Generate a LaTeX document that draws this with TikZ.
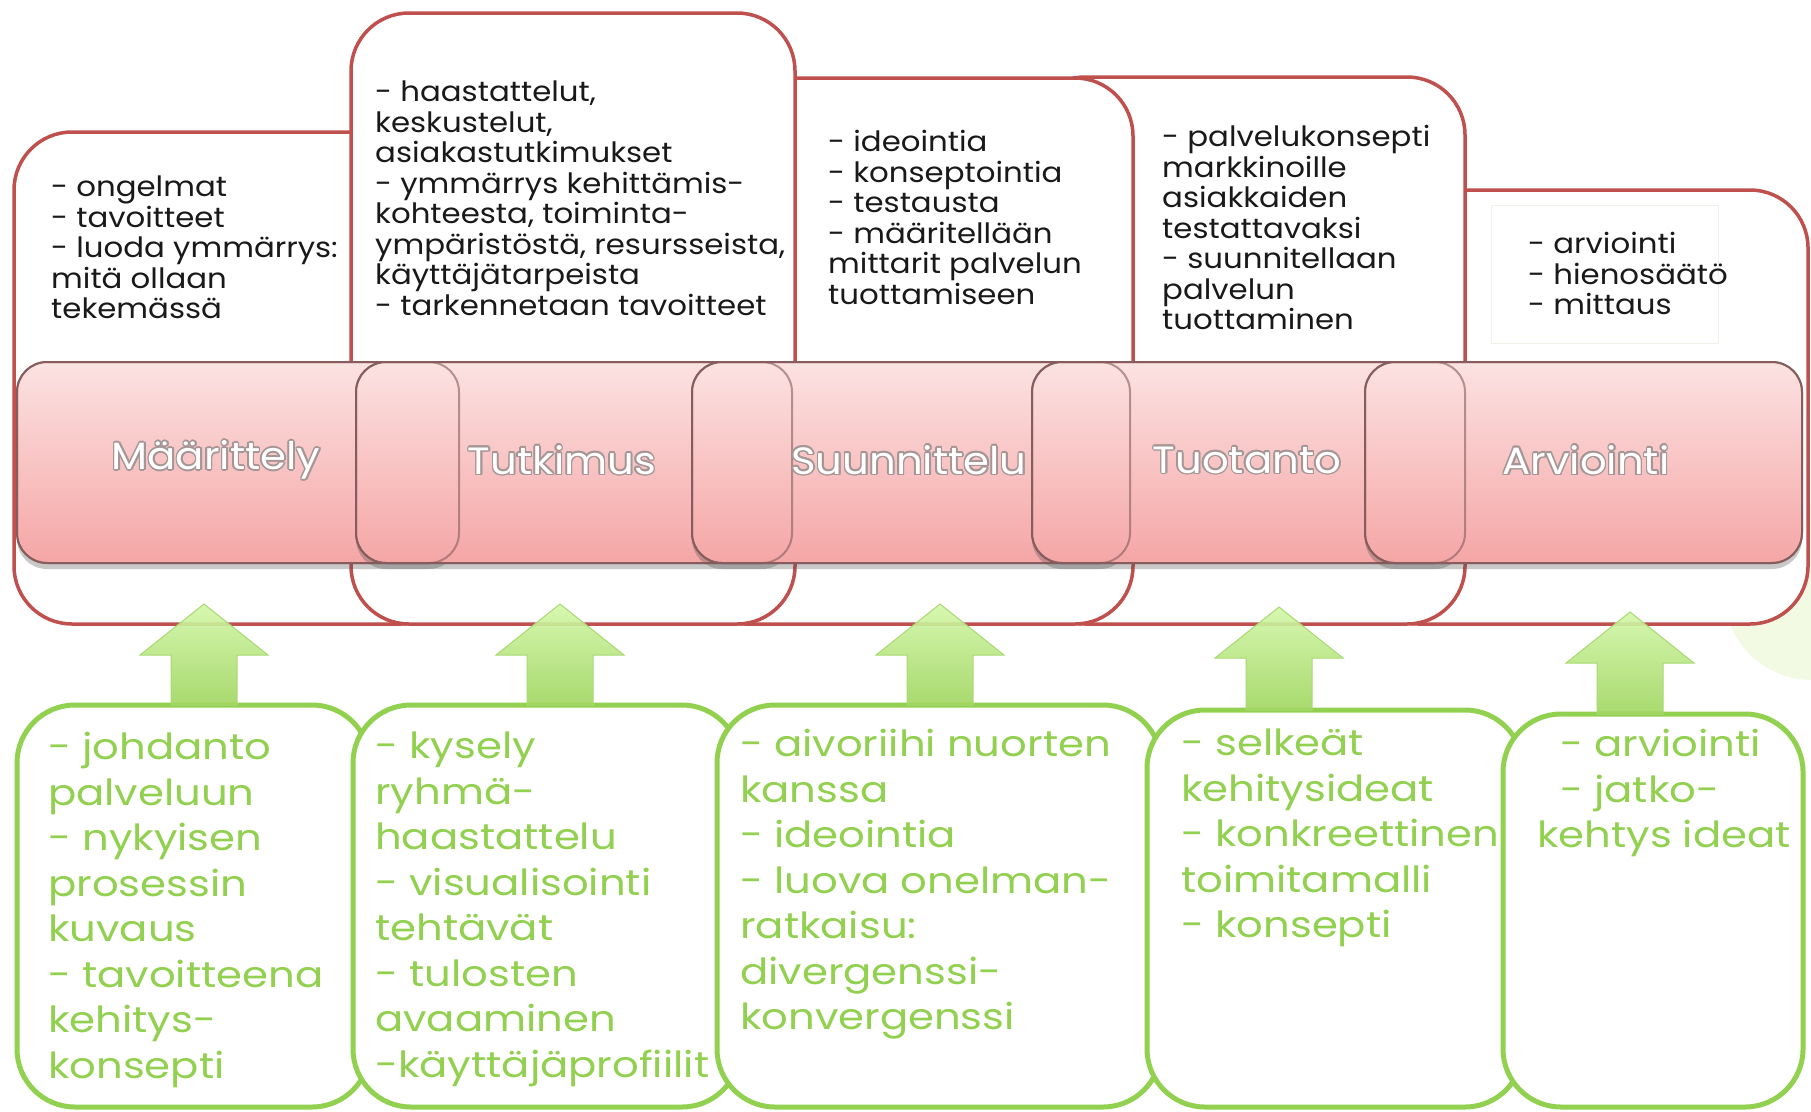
\documentclass[tikz,border=0pt]{standalone}
\usepackage{fontspec}
\setmainfont{Poppins}
\newfontfamily\boxfont[FakeStretch=1.1]{Poppins}
\newfontfamily\greenfont[FakeStretch=1.16]{Poppins}
\newfontfamily\stagefont[FakeStretch=1.1]{Poppins}
\usetikzlibrary{calc,shadows}
\definecolor{myred}{RGB}{192,80,77}
\definecolor{mygreen}{RGB}{146,208,80}
\definecolor{mypinktop}{RGB}{252,226,226}
\definecolor{mypinkbot}{RGB}{245,166,166}
\definecolor{mypinkrim}{RGB}{135,92,92}
\definecolor{myarrowtop}{RGB}{210,247,168}
\definecolor{myarrowbot}{RGB}{160,214,95}
\definecolor{mylabelrim}{RGB}{165,150,150}
\definecolor{myblob}{RGB}{242,250,228}
\definecolor{mypale}{RGB}{236,242,232}

\tikzset{
  phasebox/.style={draw=myred, line width=3.5pt, fill=white, rounded corners=58pt,
    anchor=north west, inner sep=0pt, outer sep=0pt},
  stagebar/.style={draw=mypinkrim, line width=2pt, top color=mypinktop, bottom color=mypinkbot,
    rounded corners=30pt, anchor=north west, inner sep=0pt, outer sep=0pt, minimum height=201pt,
    drop shadow={shadow xshift=0pt, shadow yshift=-6pt, opacity=0.3, fill=black!70}},
  pinkrim/.style={draw=mypinkrim, line width=2pt, draw opacity=0.6, rounded corners=30pt},
  inputbox/.style={draw=mygreen, line width=5pt, fill=white, rounded corners=58pt,
    anchor=north west, inner sep=0pt, outer sep=0pt},
  toptext/.style={anchor=north west, align=left, inner sep=0pt, text=black!90,
    font=\boxfont\fontsize{28pt}{30.5pt}\selectfont},
  greentext/.style={anchor=north west, align=left, inner sep=0pt, text=mygreen,
    font=\greenfont\fontsize{36pt}{45.5pt}\selectfont},
  stagetext/.style={inner sep=0pt, font=\stagefont\fontsize{38pt}{44pt}\selectfont},
  uparrow/.style={draw=mygreen!80, line width=1pt, top color=myarrowtop, bottom color=myarrowbot,
    fill opacity=0.9}
}

\begin{document}
\begin{tikzpicture}[x=1pt, y=1pt]
    \useasboundingbox (0,0) rectangle (1811,-1111);
    % Background
    \fill[white] (0,0) rectangle (1811,-1111);
    \fill[myblob] (1812,-592) circle (88);

    \begin{scope}
        % Phase boxes (back to front)
        \node[phasebox, minimum width=448pt, minimum height=434pt] (r5) at (1360,-190) {};
        \node[phasebox, minimum width=438pt, minimum height=547pt] (r4) at (1027,-77) {};
        \node[phasebox, minimum width=446pt, minimum height=546pt] (r3) at (687,-78) {};
        \node[phasebox, minimum width=445pt, minimum height=492pt] (r1) at (14,-132) {};
        \node[phasebox, minimum width=444pt, minimum height=611pt] (r2) at (351,-13) {};
        \draw[mypale, line width=1pt] (1491,-205) rectangle (1718,-343);

        % Phase box texts
        \node[toptext] (t1) at (51,-176) {- ongelmat\\- tavoitteet\\- luoda ymmärrys:\\mitä ollaan\\tekemässä};
        \node[toptext] (t2) at (375,-81) {- haastattelut,\\keskustelut,\\asiakastutkimukset\\- ymmärrys kehittämis-\\kohteesta, toiminta-\\ympäristöstä, resursseista,\\käyttäjätarpeista\\- tarkennetaan tavoitteet};
        \node[toptext] (t3) at (828,-130) {- ideointia\\- konseptointia\\- testausta\\- määritellään\\mittarit palvelun\\tuottamiseen};
        \node[toptext] (t4) at (1162,-125) {- palvelukonsepti\\markkinoille\\asiakkaiden\\testattavaksi\\- suunnitellaan\\palvelun\\tuottaminen};
        \node[toptext] (t5) at (1528,-232) {- arviointi\\- hienosäätö\\- mittaus};
    \end{scope}

    \begin{scope}
        % Stage bars
        \node[stagebar, minimum width=442pt] (p1) at (17,-362) {};
        \node[stagebar, minimum width=436pt] (p2) at (356,-362) {};
        \node[stagebar, minimum width=438pt] (p3) at (692,-362) {};
        \node[stagebar, minimum width=433pt] (p4) at (1032,-362) {};
        \node[stagebar, minimum width=437pt] (p5) at (1365,-362) {};
        \foreach \p in {p1,p2,p3,p4,p5}
            \draw[pinkrim] (\p.south west) rectangle (\p.north east);
        % Stage names
        \foreach \n/\x/\s in {l1/216/Määrittely, l2/562/Tutkimus, l3/909/Suunnittelu, l4/1247/Tuotanto, l5/1586/Arviointi}{
            \foreach \ang in {0,30,...,330}
                \node[stagetext, text=mylabelrim] at ($(\x,-460)+(\ang:1.6)$) {\s};
            \node[stagetext, text=white] (\n) at (\x,-460) {\s};
        }
    \end{scope}

    \begin{scope}
        % Input boxes
        \node[inputbox, minimum width=353pt, minimum height=402pt] (g1) at (17,-705) {};
        \node[inputbox, minimum width=387pt, minimum height=402pt] (g2) at (353,-705) {};
        \node[inputbox, minimum width=444pt, minimum height=402pt] (g3) at (717,-705) {};
        \node[inputbox, minimum width=376pt, minimum height=397pt] (g4) at (1147,-710) {};
        \node[inputbox, minimum width=300pt, minimum height=393pt] (g5) at (1503,-714) {};

        % Input box texts
        \node[greentext] (i1) at (48,-732) {- johdanto\\palveluun\\- nykyisen\\prosessin\\kuvaus\\- tavoitteena\\kehitys-\\konsepti};
        \node[greentext] (i2) at (375,-732) {- kysely\\ryhmä-\\haastattelu\\- visualisointi\\tehtävät\\- tulosten\\avaaminen\\-käyttäjäprofiilit};
        \node[greentext] (i3) at (740,-729) {- aivoriihi nuorten\\kanssa\\- ideointia\\- luova onelman-\\ratkaisu:\\divergenssi-\\konvergenssi};
        \node[greentext] (i4) at (1181,-729) {- selkeät\\kehitysideat\\- konkreettinen\\toimitamalli\\- konsepti};
        \node[greentext] (i5) at (1537,-729) {\hspace*{23pt}- arviointi\\\hspace*{23pt}- jatko-\\kehtys ideat};

        % Arrows from input boxes up to phase boxes
        \coordinate (a1) at (204,-604);
        \coordinate (a2) at (560,-604);
        \coordinate (a3) at (940,-604);
        \coordinate (a4) at (1279,-607);
        \coordinate (a5) at (1630,-612);
        \foreach \arw/\gbox in {a1/g1, a2/g2, a3/g3, a4/g4, a5/g5}
            \draw[uparrow] ($(\arw |- \gbox.north)+(-33,0)$) -- ($(\arw)+(-33,-51)$)
                -- ($(\arw)+(-64,-51)$) -- (\arw) -- ($(\arw)+(64,-51)$)
                -- ($(\arw)+(33,-51)$) -- ($(\arw |- \gbox.north)+(33,0)$) -- cycle;
    \end{scope}
\end{tikzpicture}
\end{document}
